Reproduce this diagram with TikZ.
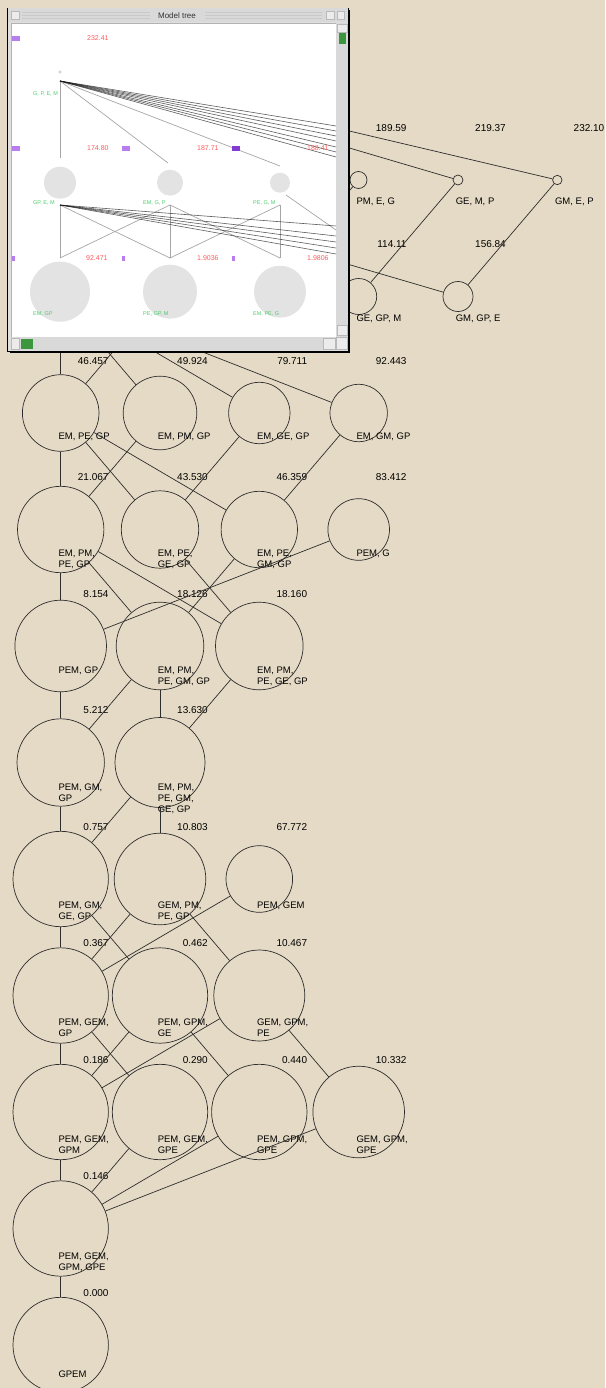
\documentclass[tikz,border=0pt]{standalone}
\usepackage{fontspec}
\setmainfont{Liberation Sans}
\definecolor{bg}{RGB}{229,218,197}
\definecolor{ln}{RGB}{45,45,45}
\definecolor{minired}{RGB}{255,90,90}
\definecolor{minigreen}{RGB}{80,205,110}
\definecolor{minipurple}{RGB}{185,125,240}
\definecolor{darkpurple}{RGB}{130,60,210}
\definecolor{thumbgreen}{RGB}{60,150,60}
\newcommand\mylab[1]{\begin{tabular}[t]{@{}l@{}}#1\end{tabular}}
\begin{document}
\begin{tikzpicture}[x=1pt,y=-1pt,
  cnode/.style={circle, draw=ln, line width=0.7pt, inner sep=0pt, minimum size=#1},
  edge/.style={draw=ln, line width=0.7pt},
  lab/.style={font=\fontsize{9.5}{11}\selectfont, inner sep=0pt, anchor=base west, text=black},
  num/.style={font=\fontsize{10}{12}\selectfont, inner sep=0pt, anchor=base east, text=black},
  mline/.style={draw=gray!70, line width=0.7pt},
  mdark/.style={draw=gray!20!black, line width=0.6pt, opacity=0.7},
  mcirc/.style={fill=gray!22, draw=none},
  mred/.style={font=\fontsize{7}{8}\selectfont, text=minired, inner sep=0pt, anchor=west},
  mgreen/.style={font=\fontsize{5.5}{6}\selectfont, text=minigreen, inner sep=0pt, anchor=west},
  sbox/.style={fill=gray!15, draw=gray!55, line width=0.4pt}]
\useasboundingbox (0,0) rectangle (605,1388);
\fill[bg] (0,0) rectangle (605,1388);

% hidden (under window) anchors
\coordinate (top) at (60.7,63);
\coordinate (r0c0) at (60.7,180);
\coordinate (r0c1) at (160,180);
\coordinate (r0c2) at (259.3,180);
\coordinate (r1c0) at (60.7,296.5);
\coordinate (r1c1) at (160,296.5);
\coordinate (r1c2) at (259.3,296.5);

% row 0
\node[cnode=17] (r0c3) at (358.5,180) {};
\node[cnode=10] (r0c4) at (458,180) {};
\node[cnode=9.4] (r0c5) at (557.3,180) {};
\node[num] (v0c3) at (406.7,131.3) {189.59};
\node[num] (v0c4) at (506,131.3) {219.37};
\node[num] (v0c5) at (604.5,131.3) {232.10};
\node[lab] (l0c3) at (356.3,204.5) {PM, E, G};
\node[lab] (l0c4) at (455.6,204.5) {GE, M, P};
\node[lab] (l0c5) at (554.9,204.5) {GM, E, P};

% row 1
\node[cnode=36] (r1c3) at (358.7,296.5) {};
\node[cnode=30] (r1c4) at (458,296.5) {};
\node[num] (v1c3) at (406.7,247.8) {114.11};
\node[num] (v1c4) at (506,247.8) {156.84};
\node[lab] (l1c3) at (356.3,321.75) {GE, GP, M};
\node[lab] (l1c4) at (455.6,321.75) {GM, GP, E};

% row 2
\node[cnode=76.6] (r2c0) at (60.7,413) {};
\node[cnode=73.6] (r2c1) at (160,413) {};
\node[cnode=61.4] (r2c2) at (259.3,413) {};
\node[cnode=57.4] (r2c3) at (358.7,413) {};
\node[num] (v2c0) at (108.7,364.3) {46.457};
\node[num] (v2c1) at (208,364.3) {49.924};
\node[num] (v2c2) at (307.3,364.3) {79.711};
\node[num] (v2c3) at (406.7,364.3) {92.443};
\node[lab] (l2c0) at (58.3,439) {EM, PE, GP};
\node[lab] (l2c1) at (157.6,439) {EM, PM, GP};
\node[lab] (l2c2) at (256.9,439) {EM, GE, GP};
\node[lab] (l2c3) at (356.3,439) {EM, GM, GP};

% row 3
\node[cnode=86.4] (r3c0) at (60.7,529.5) {};
\node[cnode=77.4] (r3c1) at (160,529.5) {};
\node[cnode=76.4] (r3c2) at (259.3,529.5) {};
\node[cnode=61.6] (r3c3) at (358.7,529.5) {};
\node[num] (v3c0) at (108.7,480.8) {21.067};
\node[num] (v3c1) at (208,480.8) {43.530};
\node[num] (v3c2) at (307.3,480.8) {46.359};
\node[num] (v3c3) at (406.7,480.8) {83.412};
\node[lab] (l3c0) at (58.3,556.25) {\mylab{EM, PM,\\PE, GP}};
\node[lab] (l3c1) at (157.6,556.25) {\mylab{EM, PE,\\GE, GP}};
\node[lab] (l3c2) at (256.9,556.25) {\mylab{EM, PE,\\GM, GP}};
\node[lab] (l3c3) at (356.3,556.25) {PEM, G};

% row 4
\node[cnode=91.6] (r4c0) at (60.7,646) {};
\node[cnode=87.6] (r4c1) at (160,646) {};
\node[cnode=87.6] (r4c2) at (259.3,646) {};
\node[num] (v4c0) at (108.7,597.3) {8.154};
\node[num] (v4c1) at (208,597.3) {18.126};
\node[num] (v4c2) at (307.3,597.3) {18.160};
\node[lab] (l4c0) at (58.3,673.5) {PEM, GP};
\node[lab] (l4c1) at (157.6,673.5) {\mylab{EM, PM,\\PE, GM, GP}};
\node[lab] (l4c2) at (256.9,673.5) {\mylab{EM, PM,\\PE, GE, GP}};

% row 5
\node[cnode=87.4] (r5c0) at (60.7,762.5) {};
\node[cnode=90] (r5c1) at (160,762.5) {};
\node[num] (v5c0) at (108.7,713.8) {5.212};
\node[num] (v5c1) at (208,713.8) {13.630};
\node[lab] (l5c0) at (58.3,790.75) {\mylab{PEM, GM,\\GP}};
\node[lab] (l5c1) at (157.6,790.75) {\mylab{EM, PM,\\PE, GM,\\GE, GP}};

% row 6
\node[cnode=95.4] (r6c0) at (60.7,879) {};
\node[cnode=91.6] (r6c1) at (160,879) {};
\node[cnode=66.6] (r6c2) at (259.3,879) {};
\node[num] (v6c0) at (108.7,830.3) {0.757};
\node[num] (v6c1) at (208,830.3) {10.803};
\node[num] (v6c2) at (307.3,830.3) {67.772};
\node[lab] (l6c0) at (58.3,908) {\mylab{PEM, GM,\\GE, GP}};
\node[lab] (l6c1) at (157.6,908) {\mylab{GEM, PM,\\PE, GP}};
\node[lab] (l6c2) at (256.9,908) {PEM, GEM};

% row 7
\node[cnode=95.4] (r7c0) at (60.7,995.5) {};
\node[cnode=95.4] (r7c1) at (160,995.5) {};
\node[cnode=91] (r7c2) at (259.3,995.5) {};
\node[num] (v7c0) at (108.7,946.8) {0.367};
\node[num] (v7c1) at (208,946.8) {0.462};
\node[num] (v7c2) at (307.3,946.8) {10.467};
\node[lab] (l7c0) at (58.3,1025.25) {\mylab{PEM, GEM,\\GP}};
\node[lab] (l7c1) at (157.6,1025.25) {\mylab{PEM, GPM,\\GE}};
\node[lab] (l7c2) at (256.9,1025.25) {\mylab{GEM, GPM,\\PE}};

% row 8
\node[cnode=95.4] (r8c0) at (60.7,1112) {};
\node[cnode=95.4] (r8c1) at (160,1112) {};
\node[cnode=95.4] (r8c2) at (259.3,1112) {};
\node[cnode=91.6] (r8c3) at (358.7,1112) {};
\node[num] (v8c0) at (108.7,1063.3) {0.186};
\node[num] (v8c1) at (208,1063.3) {0.290};
\node[num] (v8c2) at (307.3,1063.3) {0.440};
\node[num] (v8c3) at (406.7,1063.3) {10.332};
\node[lab] (l8c0) at (58.3,1142.5) {\mylab{PEM, GEM,\\GPM}};
\node[lab] (l8c1) at (157.6,1142.5) {\mylab{PEM, GEM,\\GPE}};
\node[lab] (l8c2) at (256.9,1142.5) {\mylab{PEM, GPM,\\GPE}};
\node[lab] (l8c3) at (356.3,1142.5) {\mylab{GEM, GPM,\\GPE}};

% row 9
\node[cnode=95.4] (r9c0) at (60.7,1228.5) {};
\node[num] (v9c0) at (108.7,1179.8) {0.146};
\node[lab] (l9c0) at (58.3,1259.75) {\mylab{PEM, GEM,\\GPM, GPE}};

% row 10
\node[cnode=95.4] (r10c0) at (60.7,1345) {};
\node[num] (v10c0) at (108.7,1296.3) {0.000};
\node[lab] (l10c0) at (58.3,1377) {GPEM};

% edges
\draw[edge] (top) -- (r0c0);
\draw[edge] (top) -- (r0c1);
\draw[edge] (top) -- (r0c2);
\draw[edge] (top) -- (r0c3);
\draw[edge] (top) -- (r0c4);
\draw[edge] (top) -- (r0c5);
\draw[edge] (r0c0) -- (r1c0);
\draw[edge] (r0c0) -- (r1c4);
\draw[edge] (r0c3) -- (r1c2);
\draw[edge] (r0c4) -- (r1c3);
\draw[edge] (r0c5) -- (r1c4);
\draw[edge] (r1c0) -- (r2c0);
\draw[edge] (r1c0) -- (r2c1);
\draw[edge] (r1c0) -- (r2c2);
\draw[edge] (r1c0) -- (r2c3);
\draw[edge] (r1c1) -- (r2c0);
\draw[edge] (r2c0) -- (r3c0);
\draw[edge] (r2c0) -- (r3c1);
\draw[edge] (r2c0) -- (r3c2);
\draw[edge] (r2c1) -- (r3c0);
\draw[edge] (r2c2) -- (r3c1);
\draw[edge] (r2c3) -- (r3c2);
\draw[edge] (r3c0) -- (r4c0);
\draw[edge] (r3c0) -- (r4c1);
\draw[edge] (r3c0) -- (r4c2);
\draw[edge] (r3c1) -- (r4c2);
\draw[edge] (r3c2) -- (r4c1);
\draw[edge] (r3c3) -- (r4c0);
\draw[edge] (r4c0) -- (r5c0);
\draw[edge] (r4c1) -- (r5c0);
\draw[edge] (r4c1) -- (r5c1);
\draw[edge] (r4c2) -- (r5c1);
\draw[edge] (r5c0) -- (r6c0);
\draw[edge] (r5c1) -- (r6c0);
\draw[edge] (r5c1) -- (r6c1);
\draw[edge] (r6c0) -- (r7c0);
\draw[edge] (r6c0) -- (r7c1);
\draw[edge] (r6c1) -- (r7c0);
\draw[edge] (r6c1) -- (r7c2);
\draw[edge] (r6c2) -- (r7c0);
\draw[edge] (r7c0) -- (r8c0);
\draw[edge] (r7c0) -- (r8c1);
\draw[edge] (r7c1) -- (r8c0);
\draw[edge] (r7c1) -- (r8c2);
\draw[edge] (r7c2) -- (r8c0);
\draw[edge] (r7c2) -- (r8c3);
\draw[edge] (r8c0) -- (r9c0);
\draw[edge] (r8c1) -- (r9c0);
\draw[edge] (r8c2) -- (r9c0);
\draw[edge] (r8c3) -- (r9c0);
\draw[edge] (r9c0) -- (r10c0);

% ===== overlay window "Model tree" =====
\fill[black] (9.5,10) rectangle (350.2,353);
\fill[gray!25] (7.5,8) rectangle (348.5,351);
\draw[black, line width=0.7pt] (7.5,8) rectangle (348.5,351);
% title bar
\fill[gray!30] (8,8.5) rectangle (348,22.5);
\foreach \yy in {12,15,18}{
  \draw[gray!42, line width=0.5pt] (22,\yy) -- (150,\yy);
  \draw[gray!42, line width=0.5pt] (205,\yy) -- (322,\yy);
}
\node[font=\fontsize{8}{9}\selectfont, text=gray!40!black, inner sep=1pt, fill=gray!30] (wtitle) at (177,15.5) {Model tree};
\draw[sbox] (11,11) rectangle (19,19);
\draw[sbox] (326,11) rectangle (334,19);
\draw[sbox] (337,11) rectangle (344,19);
% content area
\fill[white] (11,23.5) rectangle (336,337);
\draw[gray!60, line width=0.5pt] (11,23.5) rectangle (336,337);
% scrollbars
\fill[gray!30] (336,23.5) rectangle (348,337);
\fill[gray!30] (11,337) rectangle (336,349.5);
\draw[sbox] (337,24) rectangle (347,32);
\fill[thumbgreen] (338.5,33) rectangle (345.5,44);
\draw[sbox] (337,325) rectangle (347,335.5);
\draw[sbox] (11.5,338) rectangle (19.5,349);
\fill[thumbgreen] (21,338.5) rectangle (32.5,348.5);
\draw[sbox] (323,338) rectangle (335,349);
\draw[sbox] (336.5,337.5) rectangle (347.5,349);

% mini tree inside window
\coordinate (m0) at (60,81);
\coordinate (m1a) at (60,205);
\coordinate (m1b) at (170,205);
\coordinate (m1c) at (280,205);
\fill[gray!30] (60,72) circle (1.8);
\fill[mcirc] (60,182.7) circle (16);
\fill[mcirc] (170,182.7) circle (13);
\fill[mcirc] (280,182.7) circle (10);
\fill[mcirc] (60,291.7) circle (30);
\fill[mcirc] (170,291.7) circle (27);
\fill[mcirc] (280,291.7) circle (26);
\draw[mline] (m0) -- (60,158);
\draw[mline] (m0) -- (168,163);
\draw[mline] (m0) -- (280,166);
\foreach \yy in {126,131,136,141,147,152,157}{\draw[mdark] (m0) -- (336,\yy);}
\draw[mline] (m1a) -- (60,258);
\draw[mline] (m1b) -- (170,258);
\draw[mline] (m1c) -- (280,258);
\draw[mline] (m1a) -- (170,258);
\draw[mline] (m1b) -- (60,258);
\draw[mline] (m1b) -- (280,258);
\draw[mline] (m1c) -- (170,258);
\draw[mline] (286,195) -- (336,230);
\foreach \yy in {226,236,242,248,254}{\draw[mdark] (m1a) -- (336,\yy);}
% mini marks and texts
\fill[minipurple] (12,36) rectangle (20,41);
\node[mred] (mt0) at (87,38.5) {232.41};
\node[mgreen] (mg0) at (33,94) {G, P, E, M};
\fill[minipurple] (12,146) rectangle (20,151);
\fill[minipurple] (122,146) rectangle (130,151);
\fill[darkpurple] (232,146) rectangle (240,151);
\node[mred] (mt1) at (87,148.5) {174.80};
\node[mred] (mt2) at (197,148.5) {187.71};
\node[mred] (mt3) at (307,148.5) {188.41};
\node[mgreen] (mg1) at (33,203.3) {GP, E, M};
\node[mgreen] (mg2) at (143,203.3) {EM, G, P};
\node[mgreen] (mg3) at (253,203.3) {PE, G, M};
\fill[minipurple] (12,255.5) rectangle (15,261);
\fill[minipurple] (122,255.5) rectangle (125,261);
\fill[minipurple] (232,255.5) rectangle (235,261);
\node[mred] (mt4) at (86,258.3) {92.471};
\node[mred] (mt5) at (197,258.3) {1.9036};
\node[mred] (mt6) at (307,258.3) {1.9806};
\node[mgreen] (mg4) at (33,314) {EM, GP};
\node[mgreen] (mg5) at (143,314) {PE, GP, M};
\node[mgreen] (mg6) at (253,314) {EM, PE, G};
\end{tikzpicture}
\end{document}
